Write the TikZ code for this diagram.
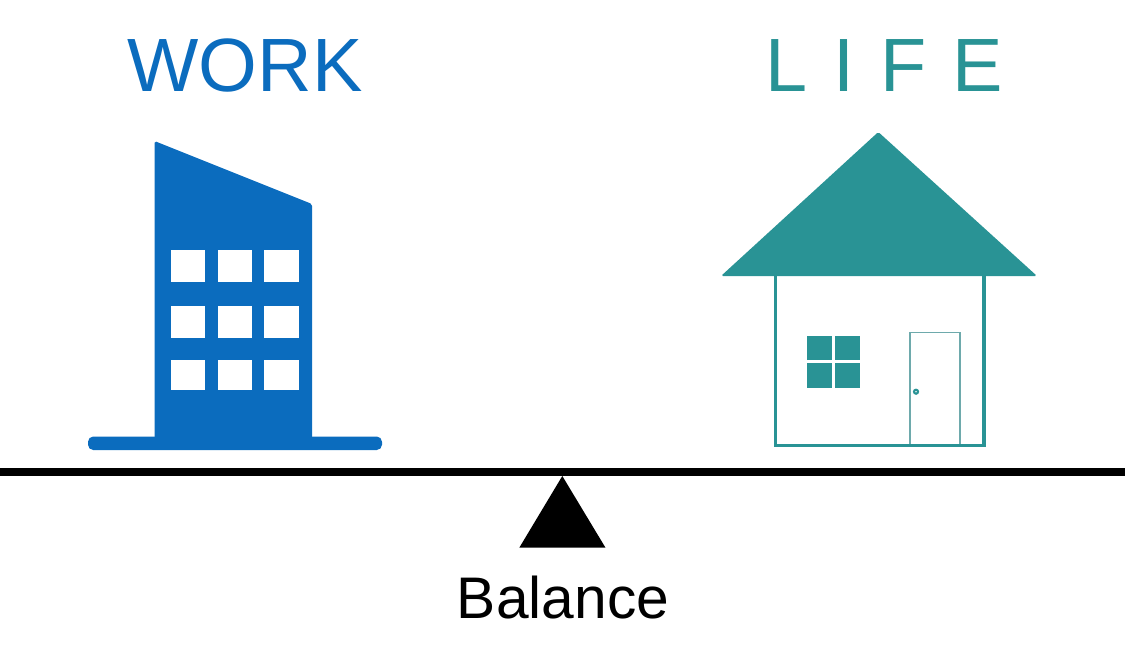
\documentclass[tikz,border=0pt]{standalone}
\usepackage{fontspec}
\setmainfont{Liberation Sans}
\usepackage{xcolor}
\definecolor{wlblue}{RGB}{11,108,190}
\definecolor{wlteal}{RGB}{41,147,149}
\definecolor{wldoor}{RGB}{110,170,172}
\tikzstyle{title} = [inner sep=0pt,font=\fontsize{43}{43}\selectfont]
\tikzstyle{pane} = [fill=white]
\tikzstyle{wall} = [line width=2pt,color=wlteal]

\begin{document}
\begin{tikzpicture}[x=0.02cm,y=-0.02cm]
\useasboundingbox (0,0) rectangle (1125,654);
% Titles
\node[title, wlblue] (work) at (245,65.5) {WORK};
\node[title, wlteal] (life) at (884,65.5) {\spaceskip=14.8pt L I F E};
% Office building
\fill[wlblue, rounded corners=1pt] (154.5,141) -- (312,204) -- (312,445) -- (154.5,445) -- cycle;
\fill[wlblue, rounded corners=3pt] (88,436.5) -- (382,436.5) -- (382,450) -- (88,450) -- cycle;
\foreach \x/\w in {171/33.5,217.5/34.5,264/34.5}
  \foreach \y/\h in {250/31.5,305.5/32.5,359.5/30.5}
    \fill[pane] (\x,\y) rectangle ++(\w,\h);
% House
\draw[wall] (775.7,276) -- (775.7,445.5) -- (984,445.5) -- (984,276);
\fill[wlteal, rounded corners=1pt] (878.3,132) -- (1037,276) -- (721,276) -- cycle;
\fill[wlteal] (807.3,336) rectangle (859.7,388.3);
\draw[white, line width=1.4pt] (833.5,336) -- (833.5,388.3);
\draw[white, line width=1.4pt] (807.3,361.5) -- (859.7,361.5);
\draw[wldoor, line width=0.9pt] (910,444) -- (910,332.3) -- (959.7,332.3) -- (959.7,444);
\draw[wlteal, line width=1.2pt] (916,391.7) circle (2);
% Beam and pivot
\fill[black] (0,468) rectangle (1125,476);
\fill[black] (562.3,476) -- (605.5,547.7) -- (519.3,547.7) -- cycle;
\node[inner sep=0pt, font=\fontsize{33.4}{33.4}\selectfont] (balance) at (563,598) {Balance};
\end{tikzpicture}
\end{document}
